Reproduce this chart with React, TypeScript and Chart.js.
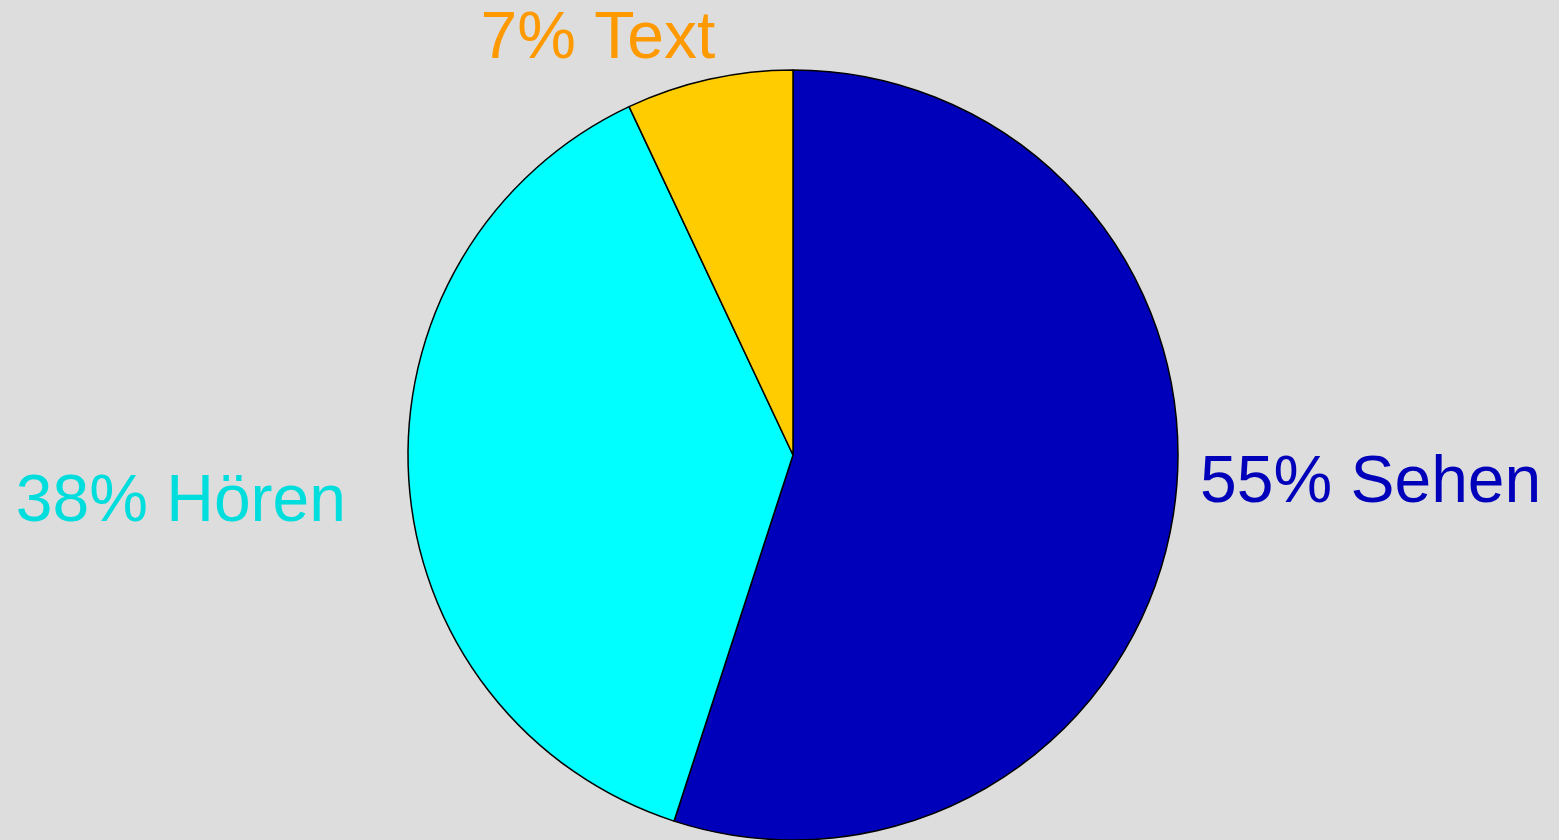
import React, { useEffect, useRef } from "react";
import { Chart, registerables } from "chart.js";

Chart.register(...registerables);

const categories = ["Sehen", "Hören", "Text"];
const values = [55, 38, 7];
const sliceColors = ["#0000BB", "#00FFFF", "#FFCC00"];
const labelColors = ["#0000BB", "#00DDDD", "#FF9900"];
const labelTexts = ["55% Sehen", "38% Hören", "7% Text"];

const labelPlugin = {
  id: "outerLabels",
  afterDraw(chart: any) {
    const ctx = chart.ctx;
    const meta = chart.getDatasetMeta(0);
    if (!meta || !meta.data.length) return;
    const arc0 = meta.data[0];
    const cx = arc0.x;
    const cy = arc0.y;
    const r = arc0.outerRadius;
    ctx.save();
    ctx.font = "66px 'Liberation Sans', Arial, sans-serif";
    ctx.textBaseline = "alphabetic";
    // Sehen (right side)
    ctx.fillStyle = labelColors[0];
    ctx.textAlign = "left";
    ctx.fillText(labelTexts[0], cx + r + 22, cy + 47);
    // Hören (left side)
    ctx.fillStyle = labelColors[1];
    ctx.textAlign = "right";
    ctx.fillText(labelTexts[1], cx - r - 62, cy + 66);
    // Text (top)
    ctx.fillStyle = labelColors[2];
    ctx.textAlign = "center";
    ctx.fillText(labelTexts[2], cx - 195, cy - r - 12);
    ctx.restore();
  },
};

export default function App() {
  const ref = useRef<HTMLCanvasElement>(null);
  useEffect(() => {
    document.body.style.margin = "0";
    document.body.style.background = "#DDDDDD";
    const chart = new Chart(ref.current as HTMLCanvasElement, {
      type: "pie",
      data: {
        labels: categories,
        datasets: [
          {
            data: values,
            backgroundColor: sliceColors,
            borderColor: "#000000",
            borderWidth: 1.5,
            radius: 385,
          } as any,
        ],
      },
      options: {
        animation: false,
        responsive: false,
        layout: { padding: { left: 27, right: 0, top: 70, bottom: 0 } },
        plugins: {
          legend: { display: false },
          tooltip: { enabled: false },
          title: { display: false },
        },
      },
      plugins: [labelPlugin],
    });
    return () => chart.destroy();
  }, []);
  return (
    <div style={{ width: 1559, height: 840, background: "#DDDDDD", position: "relative" }}>
      <canvas ref={ref} width={1559} height={840} style={{ display: "block" }} />
    </div>
  );
}
